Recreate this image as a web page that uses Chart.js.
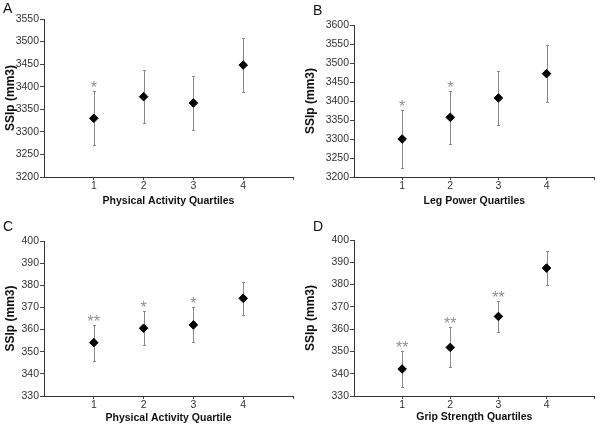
<!DOCTYPE html>
<html>
<head>
<meta charset="utf-8">
<script src="https://cdn.jsdelivr.net/npm/chart.js@4.4.0/dist/chart.umd.min.js"></script>
<style>
    body { margin: 0; background: #fff; width: 600px; height: 426px; position: relative; overflow: hidden; font-family: "Liberation Sans", Arial, sans-serif; }
    .panel { position: absolute; width: 300px; height: 213px; }
    .letter { position: absolute; font-size: 14px; line-height: 14px; color: #111; }
</style>
</head>
<body>
<div class="panel" style="left:0;top:0"><canvas id="chart-a" width="300" height="213"></canvas></div>
<div class="panel" style="left:300px;top:0"><canvas id="chart-b" width="300" height="213"></canvas></div>
<div class="panel" style="left:0;top:213px"><canvas id="chart-c" width="300" height="213"></canvas></div>
<div class="panel" style="left:300px;top:213px"><canvas id="chart-d" width="300" height="213"></canvas></div>
<div class="letter" style="left:3px;top:1px">A</div>
<div class="letter" style="left:313px;top:3px">B</div>
<div class="letter" style="left:3px;top:219px">C</div>
<div class="letter" style="left:313px;top:219px">D</div>
<script>
// 四分位 (x 軸)
const quartiles = [1, 2, 3, 4];

// A: Physical Activity Quartiles
const meansA = [3330, 3378, 3364, 3448];
const errsA = [60, 59, 59, 60];
const starsA = ['*', '', '', ''];

// B: Leg Power Quartiles
const meansB = [3300, 3357, 3408, 3472];
const errsB = [76, 70, 71, 75];
const starsB = ['*', '*', '', ''];

// C: Physical Activity Quartile
const meansC = [354.1, 360.6, 362.1, 374.1];
const errsC = [8.1, 7.6, 7.9, 7.4];
const starsC = ['**', '*', '*', ''];

// D: Grip Strength Quartiles
const meansD = [342.1, 351.8, 365.7, 387.4];
const errsD = [8.1, 9.0, 7.1, 7.5];
const starsD = ['**', '**', '**', ''];

Chart.defaults.font.family = '"Liberation Sans", Arial, sans-serif';
Chart.defaults.color = '#333';

// 誤差線 + 星號標記
const errorBars = {
    id: 'errorBars',
    beforeDatasetsDraw(chart, args, opts) {
        const { ctx, scales: { x, y } } = chart;
        ctx.save();
        ctx.strokeStyle = '#8a8a8a';
        ctx.lineWidth = 1;
        opts.means.forEach((m, i) => {
            const px = Math.round(x.getPixelForValue(quartiles[i])) + 0.5;
            const top = Math.round(y.getPixelForValue(m + opts.errs[i])) + 0.5;
            const bot = Math.round(y.getPixelForValue(m - opts.errs[i])) + 0.5;
            ctx.beginPath();
            ctx.moveTo(px, top); ctx.lineTo(px, bot);
            ctx.moveTo(px - 1.5, top); ctx.lineTo(px + 1.5, top);
            ctx.moveTo(px - 1.5, bot); ctx.lineTo(px + 1.5, bot);
            ctx.stroke();
        });
        ctx.restore();
    },
    afterDatasetsDraw(chart, args, opts) {
        const { ctx, scales: { x, y } } = chart;
        ctx.save();
        ctx.fillStyle = '#8f8f8f';
        ctx.font = '16px "Liberation Sans", Arial, sans-serif';
        ctx.textAlign = 'center';
        ctx.textBaseline = 'alphabetic';
        opts.stars.forEach((s, i) => {
            if (!s) return;
            const px = x.getPixelForValue(quartiles[i]);
            const top = y.getPixelForValue(opts.means[i] + opts.errs[i]);
            ctx.fillText(s, px, top + 2);
        });
        ctx.restore();
    }
};

function renderPanel(canvasId, means, errs, stars, yMin, yMax, yStep, xTitle, box) {
    const ctx = document.getElementById(canvasId).getContext('2d');
    new Chart(ctx, {
        type: 'scatter',
        data: {
            datasets: [{
                data: quartiles.map((q, i) => ({ x: q, y: means[i] })),
                pointStyle: 'rectRot',
                pointRadius: 4.3,
                pointHoverRadius: 4.3,
                backgroundColor: '#000',
                borderColor: '#000',
                borderWidth: 1
            }]
        },
        options: {
            responsive: false,
            animation: false,
            devicePixelRatio: 1,
            events: [],
            layout: { padding: { top: box.top, right: box.right, left: 0, bottom: 0 } },
            plugins: {
                legend: { display: false },
                tooltip: { enabled: false },
                errorBars: { means: means, errs: errs, stars: stars }
            },
            scales: {
                x: {
                    type: 'linear',
                    min: 0,
                    max: 5,
                    ticks: {
                        stepSize: 1,
                        padding: 0,
                        color: '#333',
                        font: { size: 10.5 },
                        maxRotation: 0,
                        callback: v => (v >= 1 && v <= 4) ? String(v) : (v === 0 ? null : '')
                    },
                    grid: { drawOnChartArea: false, tickLength: 3, color: '#444' },
                    border: { color: '#333', width: 1 },
                    title: {
                        display: true,
                        text: xTitle,
                        color: '#111',
                        font: { size: 10.5, weight: 'bold' },
                        padding: { top: 0, bottom: box.titlePad }
                    },
                    afterFit: s => { s.height = box.xHeight; }
                },
                y: {
                    min: yMin,
                    max: yMax,
                    ticks: {
                        stepSize: yStep,
                        padding: 1,
                        color: '#333',
                        font: { size: 10.5 },
                        callback: v => String(v)   // 不要千分位逗號
                    },
                    grid: { drawOnChartArea: false, tickLength: 4, color: '#444' },
                    border: { color: '#333', width: 1 },
                    title: {
                        display: true,
                        text: 'SSIp (mm3)',
                        color: '#111',
                        font: { size: 12, weight: 'bold' },
                        padding: { top: 3, bottom: 0 }
                    },
                    afterFit: s => { s.width = box.yWidth; }
                }
            }
        },
        plugins: [errorBars]
    });
}

renderPanel('chart-a', meansA, errsA, starsA, 3200, 3550, 50, 'Physical Activity Quartiles',
    { top: 19, right: 7, yWidth: 44, xHeight: 36, titlePad: 6 });
renderPanel('chart-b', meansB, errsB, starsB, 3200, 3600, 50, 'Leg Power Quartiles',
    { top: 25, right: 4, yWidth: 54, xHeight: 36, titlePad: 6 });
renderPanel('chart-c', meansC, errsC, starsC, 330, 400, 10, 'Physical Activity Quartile',
    { top: 28, right: 7, yWidth: 44, xHeight: 30, titlePad: 2 });
renderPanel('chart-d', meansD, errsD, starsD, 330, 400, 10, 'Grip Strength Quartiles',
    { top: 27, right: 4, yWidth: 54, xHeight: 30, titlePad: 2.5 });
</script>
</body>
</html>
